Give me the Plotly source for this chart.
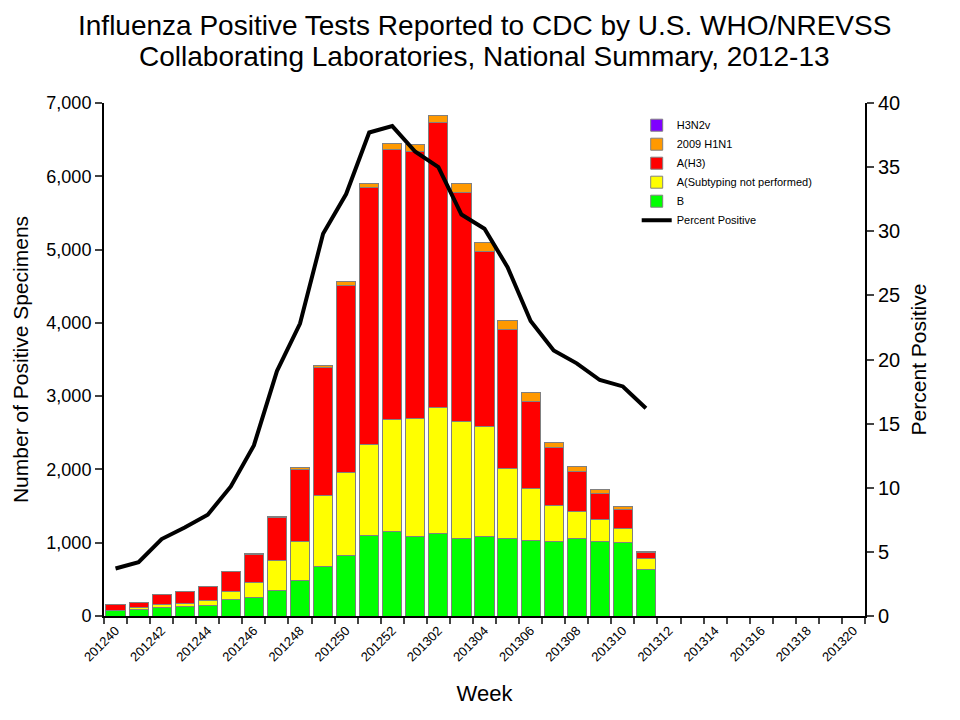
"""Influenza positive tests by week, CDC WHO/NREVSS national summary 2012-13."""

import plotly.graph_objects as go

# week labels: 2012 wk40 .. 2013 wk20
weeks = [f"2012{w:02d}" for w in range(40, 53)] + [f"2013{w:02d}" for w in range(1, 21)]

# counts (24 reported weeks, 201240..201311)
b_counts = [70, 85, 118, 127, 146, 226, 259, 354, 481, 669, 820, 1094,
            1155, 1080, 1122, 1061, 1080, 1061, 1037, 1014, 1061, 1023, 1000, 632]
a_unsubtyped = [10, 25, 42, 47, 66, 104, 203, 400, 537, 981, 1137, 1249,
                1532, 1617, 1721, 1589, 1504, 952, 707, 495, 368, 288, 193, 155]
a_h3 = [76, 70, 135, 160, 185, 275, 375, 595, 985, 1735, 2555, 3498,
        3678, 3644, 3890, 3135, 2390, 1891, 1189, 792, 546, 363, 259, 85]
h1n1_2009 = [2, 4, 2, 1, 5, 8, 12, 9, 20, 33, 57, 62,
             80, 95, 103, 118, 127, 122, 113, 66, 66, 47, 47, 14]
h3n2v = [0] * 24
pct_positive = [3.7, 4.2, 6.0, 6.9, 7.9, 10.1, 13.3, 19.1, 22.8, 29.8, 32.9, 37.7,
                38.2, 36.2, 35.0, 31.3, 30.2, 27.2, 23.0, 20.7, 19.7, 18.4, 17.9, 16.2]

title_lines = [
    "Influenza Positive Tests Reported to CDC by U.S. WHO/NREVSS",
    "Collaborating Laboratories, National Summary, 2012-13",
]

reported = weeks[:len(b_counts)]
FONT = "Arial, Liberation Sans, sans-serif"
OUTLINE = dict(color="#808080", width=1)

fig = go.Figure()

series = [
    ("B", b_counts, "#00FF00", 5),
    ("A(Subtyping not performed)", a_unsubtyped, "#FFFF00", 4),
    ("A(H3)", a_h3, "#FF0000", 3),
    ("2009 H1N1", h1n1_2009, "#FF9900", 2),
    ("H3N2v", h3n2v, "#7F00FF", 1),
]
for name, vals, color, rank in series:
    fig.add_trace(go.Bar(
        x=reported, y=vals, name=name, legendrank=rank,
        marker=dict(color=color, line=OUTLINE),
    ))

fig.add_trace(go.Scatter(
    x=reported, y=pct_positive, name="Percent Positive", legendrank=6,
    mode="lines", line=dict(color="black", width=4), yaxis="y2",
))

# two title lines, placed separately to control the spacing
for text, ypos in zip(title_lines, [1.152, 1.090]):
    fig.add_annotation(
        text=text, xref="paper", yref="paper", x=0.5, y=ypos,
        xanchor="center", yanchor="middle", showarrow=False,
        font=dict(size=28, family=FONT, color="black"),
    )

# label every other week, tick at every boundary
tick_text = [w if i % 2 == 0 else "" for i, w in enumerate(weeks)]

fig.update_layout(
    width=960, height=720,
    margin=dict(l=89, r=103, t=95, b=112),
    paper_bgcolor="white", plot_bgcolor="white",
    font=dict(family=FONT, color="black"),
    barmode="stack", bargap=0.17,
    legend=dict(
        x=0.70, y=0.985, xanchor="left", yanchor="top", traceorder="normal",
        bgcolor="rgba(0,0,0,0)", font=dict(size=11, family=FONT),
        itemwidth=30,
    ),
    xaxis=dict(
        type="category", categoryorder="array", categoryarray=weeks,
        range=[-0.5, len(weeks) - 0.5],
        tickmode="array", tickvals=weeks, ticktext=tick_text,
        tickangle=-45, tickfont=dict(size=13),
        tickson="boundaries", ticks="outside", ticklen=6, tickwidth=2,
        showline=True, linecolor="black", linewidth=2,
        showgrid=False,
        title=dict(text="Week", font=dict(size=22), standoff=22),
    ),
    yaxis=dict(
        range=[0, 7000], dtick=1000, tickformat=",",
        ticks="outside", ticklen=7, tickwidth=2,
        showline=True, linecolor="black", linewidth=2,
        showgrid=False, zeroline=False, tickfont=dict(size=18),
        title=dict(text="Number of Positive Specimens", font=dict(size=21), standoff=12),
    ),
    yaxis2=dict(
        overlaying="y", side="right", range=[0, 40], dtick=5,
        ticks="outside", ticklen=7, tickwidth=2,
        showline=True, linecolor="black", linewidth=2,
        showgrid=False, zeroline=False, tickfont=dict(size=20),
        title=dict(text="Percent Positive", font=dict(size=21), standoff=12),
    ),
)

fig.write_html("out.html")
